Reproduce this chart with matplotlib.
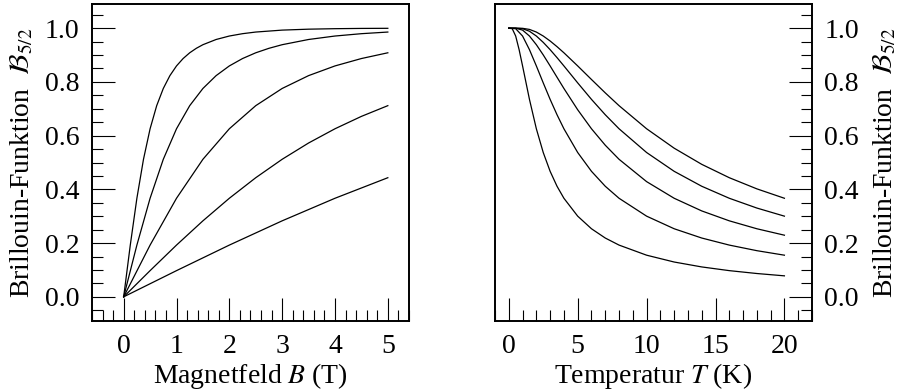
import matplotlib
matplotlib.use("Agg")
import matplotlib.pyplot as plt
from matplotlib.ticker import MultipleLocator

plt.rcParams['font.family'] = ['Liberation Serif', 'DejaVu Serif']
plt.rcParams['mathtext.fontset'] = 'stix'
plt.rcParams['font.size'] = 20

# Brillouin-Funktion B_5/2 gegen Magnetfeld, fuer T = 1, 2, 4, 8, 16 K
B_T1 = [0, 0.125, 0.25, 0.375, 0.5, 0.625, 0.75, 0.875, 1.0, 1.125, 1.25,
        1.375, 1.5, 1.75, 2.0, 2.25, 2.5, 3.0, 3.5, 4.0, 4.5, 5.0]
M_T1 = [0, 0.1926, 0.3669, 0.5120, 0.6256, 0.7116, 0.7756, 0.8234, 0.8595,
        0.8870, 0.9084, 0.9251, 0.9385, 0.9579, 0.9708, 0.9795, 0.9856,
        0.9928, 0.9963, 0.9981, 0.9991, 0.9995]

B_T2 = [0, 0.25, 0.5, 0.75, 1.0, 1.25, 1.5, 1.75, 2.0, 2.25, 2.5, 2.75, 3.0,
        3.5, 4.0, 4.5, 5.0]
M_T2 = [0, 0.1926, 0.3669, 0.5120, 0.6256, 0.7116, 0.7756, 0.8234, 0.8595,
        0.8870, 0.9084, 0.9251, 0.9385, 0.9579, 0.9708, 0.9795, 0.9856]

B_T4 = [0, 0.5, 1.0, 1.5, 2.0, 2.5, 3.0, 3.5, 4.0, 4.5, 5.0]
M_T4 = [0, 0.1926, 0.3669, 0.5120, 0.6256, 0.7116, 0.7756, 0.8234, 0.8595,
        0.8870, 0.9084]

B_T8 = [0, 0.5, 1.0, 1.5, 2.0, 2.5, 3.0, 3.5, 4.0, 4.5, 5.0]
M_T8 = [0, 0.0975, 0.1926, 0.2829, 0.3669, 0.4434, 0.5120, 0.5726, 0.6256,
        0.6717, 0.7116]

B_T16 = [0, 1, 2, 3, 4, 5]
M_T16 = [0, 0.0975, 0.1926, 0.2829, 0.3669, 0.4434]

# gegen Temperatur, fuer B = 1, 2, 3, 4, 5 T
T_B1 = [0, 0.25, 0.5, 0.75, 1, 1.5, 2, 2.5, 3, 3.5, 4, 5, 6, 7, 8, 10, 12,
        14, 16, 18, 20]
M_B1 = [1.0, 0.9981, 0.9708, 0.9200, 0.8595, 0.7350, 0.6256, 0.5372, 0.4672,
        0.4116, 0.3669, 0.3003, 0.2534, 0.2189, 0.1926, 0.1550, 0.1296,
        0.1113, 0.0975, 0.0868, 0.0781]

T_Bn = [0, 0.5, 1, 1.5, 2, 2.5, 3, 3.5, 4, 5, 6, 7, 8, 10, 12, 14, 16, 18, 20]
M_B2 = [1.0, 0.9981, 0.9708, 0.9200, 0.8595, 0.7964, 0.7350, 0.6778, 0.6256,
        0.5372, 0.4672, 0.4116, 0.3669, 0.3003, 0.2534, 0.2189, 0.1926,
        0.1718, 0.1550]
M_B3 = [1.0, 0.9999, 0.9928, 0.9708, 0.9385, 0.9005, 0.8595, 0.8174, 0.7756,
        0.6963, 0.6256, 0.5644, 0.5120, 0.4288, 0.3669, 0.3198, 0.2829,
        0.2534, 0.2294]
M_B4 = [1.0, 1.0, 0.9981, 0.9886, 0.9708, 0.9472, 0.9200, 0.8904, 0.8595,
        0.7964, 0.7350, 0.6778, 0.6256, 0.5372, 0.4672, 0.4116, 0.3669,
        0.3305, 0.3003]
M_B5 = [1.0, 1.0, 0.9995, 0.9954, 0.9856, 0.9708, 0.9523, 0.9312, 0.9084,
        0.8595, 0.8090, 0.7592, 0.7116, 0.6256, 0.5533, 0.4932, 0.4434,
        0.4019, 0.3669]

ylabel = r"Brillouin-Funktion  $\mathcal{B}_{5/2}$"

fig = plt.figure(figsize=(9, 3.92), dpi=100)
ax1 = fig.add_axes([0.1022, 0.1811, 0.3522, 0.8087])
ax2 = fig.add_axes([0.5500, 0.1811, 0.3522, 0.8087])

lw = 0.9
for x, y in [(B_T1, M_T1), (B_T2, M_T2), (B_T4, M_T4), (B_T8, M_T8),
             (B_T16, M_T16)]:
    ax1.plot(x, y, color='black', lw=lw)
ax2.plot(T_B1, M_B1, color='black', lw=lw)
for y in [M_B2, M_B3, M_B4, M_B5]:
    ax2.plot(T_Bn, y, color='black', lw=lw)

ax1.set_xlim(-0.6, 5.4)
ax2.set_xlim(-1, 22)
for ax in (ax1, ax2):
    ax.set_ylim(-0.09, 1.09)
    ax.yaxis.set_major_locator(MultipleLocator(0.2))
    ax.yaxis.set_minor_locator(MultipleLocator(0.05))
    for s in ax.spines.values():
        s.set_linewidth(1.4)
    ax.tick_params(which='both', direction='in', width=0.8, color='black')
    ax.tick_params(which='major', length=16.5, pad=9)
    ax.tick_params(which='minor', length=8)

ax1.xaxis.set_major_locator(MultipleLocator(1))
ax1.xaxis.set_minor_locator(MultipleLocator(0.2))
ax2.xaxis.set_major_locator(MultipleLocator(5))
ax2.xaxis.set_minor_locator(MultipleLocator(1))

ax1.tick_params(which='both', left=True, right=False, top=False, bottom=True)
ax1.yaxis.set_major_formatter(plt.FormatStrFormatter('%.1f'))
ax1.set_xlabel(r"Magnetfeld $B$ (T)", labelpad=2)
ax1.set_ylabel(ylabel)
ax1.yaxis.set_label_coords(-0.18, 0.5)

ax2.yaxis.tick_right()
ax2.yaxis.set_label_position('right')
ax2.tick_params(which='both', left=False, right=True, top=False, bottom=True)
ax2.yaxis.set_major_formatter(plt.FormatStrFormatter('%.1f'))
ax2.set_xlabel(r"Temperatur $T$ (K)", labelpad=2)
ax2.set_ylabel(ylabel)
ax2.yaxis.set_label_coords(1.189, 0.5)

fig.savefig("out.png", dpi=100)
